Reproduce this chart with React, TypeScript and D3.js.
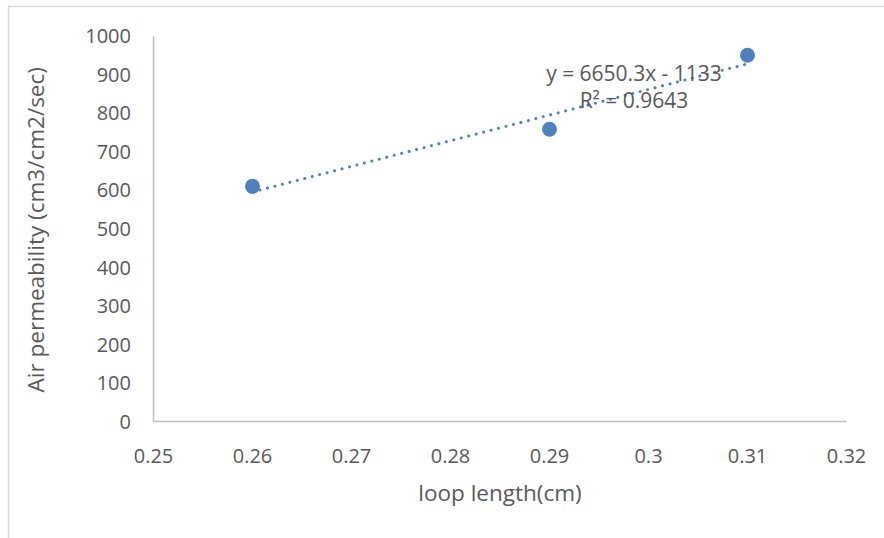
import React, { useEffect } from 'react';
import * as d3 from 'd3';

// loop length (cm) vs air permeability
const loopLength = [0.26, 0.29, 0.31];
const permeability = [610, 758, 950];
const xTicks = [0.25, 0.26, 0.27, 0.28, 0.29, 0.3, 0.31, 0.32];
const yTicks = [0, 100, 200, 300, 400, 500, 600, 700, 800, 900, 1000];
const trendLabels = ['y = 6650.3x - 1133', 'R² = 0.9643'];

const W = 884;
const H = 538;
const blue = '#4f81bd';
const grey = '#595959';
const font = "'Open Sans', 'Liberation Sans', sans-serif";

export default function App() {
  useEffect(() => {
    document.body.style.margin = '0';
  }, []);

  const x = d3.scaleLinear().domain([0.25, 0.32]).range([153.5, 846.5]);
  const y = d3.scaleLinear().domain([0, 1000]).range([421.5, 36]);

  // least squares trendline
  const mx = d3.mean(loopLength) as number;
  const my = d3.mean(permeability) as number;
  const sxy = d3.sum(loopLength, (v, i) => (v - mx) * (permeability[i] - my));
  const sxx = d3.sum(loopLength, (v) => (v - mx) ** 2);
  const slope = sxy / sxx;
  const icpt = my - slope * mx;
  const x0 = d3.min(loopLength) as number;
  const x1 = d3.max(loopLength) as number;
  const line = d3.line<number>().x((d) => x(d)).y((d) => y(slope * d + icpt));

  return (
    <svg width={W} height={H} style={{ display: 'block', fontFamily: font }}>
      <rect x={0} y={0} width={W} height={H} fill="#fff" />
      {/* chart frame, runs off the right and bottom */}
      <path d={`M8.5,${H + 2}V6.5H${W + 2}`} fill="none" stroke="#d9d9d9" strokeWidth={1.5} />

      {/* axes */}
      <line x1={x(0.25)} x2={x(0.25)} y1={y(1000)} y2={y(0)} stroke="#bfbfbf" strokeWidth={1.5} />
      <line x1={x(0.25)} x2={x(0.32)} y1={y(0)} y2={y(0)} stroke="#bfbfbf" strokeWidth={1.5} />

      {yTicks.map((t) => (
        <text key={t} x={131} y={y(t)} dy="0.36em" textAnchor="end" fontSize={20} fill={grey}>
          {t}
        </text>
      ))}
      {xTicks.map((t) => (
        <text key={t} x={x(t)} y={463} textAnchor="middle" fontSize={20} fill={grey}>
          {d3.format('~g')(t)}
        </text>
      ))}

      <text x={(x(0.25) + x(0.32)) / 2} y={501} textAnchor="middle" fontSize={22.5} fill={grey}>
        loop length(cm)
      </text>
      <text
        transform={`translate(44,${(y(0) + y(1000)) / 2 + 1}) rotate(-90)`}
        textAnchor="middle"
        fontSize={22.5}
        fill={grey}
      >
        Air permeability (cm3/cm2/sec)
      </text>

      {/* trendline */}
      <path
        d={line([x0, x1]) as string}
        fill="none"
        stroke={blue}
        strokeWidth={3}
        strokeDasharray="0.1 7.6"
        strokeLinecap="round"
      />

      {loopLength.map((v, i) => (
        <circle key={i} cx={x(v)} cy={y(permeability[i])} r={7.5} fill={blue} />
      ))}

      {trendLabels.map((s, i) => (
        <text key={s} x={634} y={81 + i * 27} textAnchor="middle" fontSize={21} fill={grey}>
          {s}
        </text>
      ))}
    </svg>
  );
}
